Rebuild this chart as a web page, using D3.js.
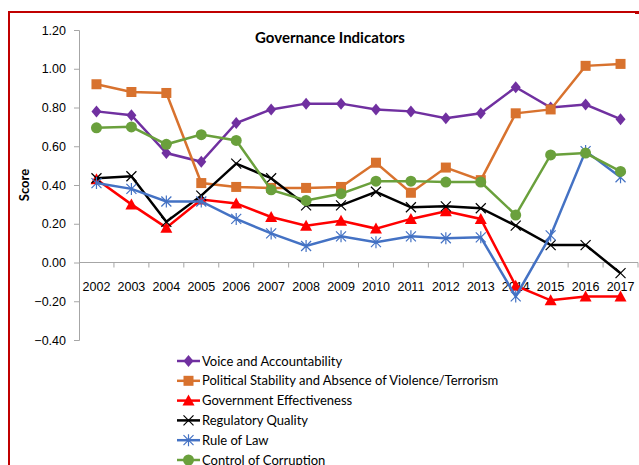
<!DOCTYPE html>
<html>
<head>
<meta charset="utf-8">
<script src="https://cdn.jsdelivr.net/npm/d3@7"></script>
<style>
  body { margin: 0; background: #fff; }
  svg { display: block; font-family: Lato, "Open Sans", sans-serif; }
  .axis path, .axis line { stroke: #a6a6a6; }
  .axis text { fill: #000; }
</style>
</head>
<body>
<div id="chart"></div>
<script>
var years = ["2002","2003","2004","2005","2006","2007","2008","2009","2010","2011","2012","2013","2014","2015","2016","2017"];
var yTicks = [-0.4, -0.2, 0, 0.2, 0.4, 0.6, 0.8, 1.0, 1.2];

var voice      = [0.78, 0.76, 0.565, 0.52, 0.72, 0.79, 0.82, 0.82, 0.79, 0.78, 0.745, 0.77, 0.905, 0.80, 0.815, 0.74];
var stability  = [0.92, 0.88, 0.875, 0.41, 0.39, 0.385, 0.385, 0.39, 0.515, 0.36, 0.49, 0.425, 0.77, 0.79, 1.015, 1.025];
var govEff     = [0.43, 0.30, 0.18, 0.325, 0.305, 0.235, 0.19, 0.215, 0.175, 0.225, 0.265, 0.225, -0.12, -0.195, -0.175, -0.175];
var regQuality = [0.435, 0.445, 0.21, 0.345, 0.51, 0.435, 0.295, 0.295, 0.365, 0.285, 0.29, 0.28, 0.19, 0.09, 0.09, -0.055];
var ruleOfLaw  = [0.41, 0.38, 0.315, 0.315, 0.225, 0.15, 0.085, 0.135, 0.105, 0.135, 0.125, 0.13, -0.175, 0.14, 0.575, 0.44];
var corruption = [0.695, 0.70, 0.61, 0.66, 0.63, 0.375, 0.32, 0.355, 0.42, 0.42, 0.415, 0.415, 0.245, 0.555, 0.565, 0.47];

var series = [
  {name: "Voice and Accountability", values: voice, color: "#7030a0", marker: "diamond"},
  {name: "Political Stability and Absence of Violence/Terrorism", values: stability, color: "#d8722e", marker: "square"},
  {name: "Government Effectiveness", values: govEff, color: "#ff0000", marker: "triangle"},
  {name: "Regulatory Quality", values: regQuality, color: "#000000", marker: "x"},
  {name: "Rule of Law", values: ruleOfLaw, color: "#4472c4", marker: "star"},
  {name: "Control of Corruption", values: corruption, color: "#6aa03c", marker: "circle"}
];

var W = 639, H = 465;

var svg = d3.select("#chart").append("svg")
  .attr("width", W).attr("height", H);

// red frame
svg.append("path")
  .attr("d", "M9,465 V12 H639")
  .attr("fill", "none").attr("stroke", "#c00000").attr("stroke-width", 2);
svg.append("rect").attr("x", 635).attr("y", 11).attr("width", 4).attr("height", 3).attr("fill", "#c00000");

var x = d3.scaleBand().domain(years).range([79, 638]);
var y = d3.scaleLinear().domain([-0.4, 1.2]).range([340, 30]);

// y axis
var yAxis = svg.append("g").attr("class", "axis")
  .attr("transform", "translate(79,0)")
  .call(d3.axisLeft(y).tickValues(yTicks).tickFormat(d3.format(".2f")).tickSize(5).tickPadding(8));
yAxis.selectAll("text").style("font-size", "12.5px");

// x axis at zero
var xAxis = svg.append("g").attr("class", "axis")
  .attr("transform", "translate(0," + y(0) + ")")
  .call(d3.axisBottom(x).tickSize(0).tickPadding(20));
xAxis.select(".domain").attr("d", "M79,0H638");
xAxis.selectAll(".tick text").style("font-size", "12.5px");
svg.append("g").attr("class", "axis")
  .selectAll("line").data(years)
  .join("line")
  .attr("x1", function(d){ return x(d) + x.bandwidth(); })
  .attr("x2", function(d){ return x(d) + x.bandwidth(); })
  .attr("y1", y(0)).attr("y2", y(0) + 5);

// title
svg.append("text")
  .attr("x", 330).attr("y", 43)
  .attr("text-anchor", "middle")
  .style("font-size", "15px").style("font-weight", "bold")
  .text("Governance Indicators");

svg.append("text")
  .attr("transform", "translate(29," + y(0.4) + ") rotate(-90)")
  .attr("text-anchor", "middle")
  .style("font-size", "13px").style("font-weight", "bold")
  .text("Score");

function drawMarker(g, type, color) {
  if (type === "diamond") {
    g.append("path").attr("d", "M0,-6L5,0L0,6L-5,0Z").attr("fill", color);
  } else if (type === "square") {
    g.append("rect").attr("x", -5).attr("y", -5).attr("width", 10).attr("height", 10).attr("fill", color);
  } else if (type === "triangle") {
    g.append("path").attr("d", "M0,-6L6,5L-6,5Z").attr("fill", color);
  } else if (type === "x") {
    g.append("path").attr("d", "M-5,-5L5,5M-5,5L5,-5").attr("stroke", color).attr("stroke-width", 1.2);
  } else if (type === "star") {
    g.append("path").attr("d", "M-5,-5L5,5M-5,5L5,-5M0,-6V6").attr("stroke", color).attr("stroke-width", 1.2);
  } else if (type === "circle") {
    g.append("circle").attr("r", 5.5).attr("fill", color);
  }
}

var line = d3.line()
  .x(function(d, i){ return x(years[i]) + x.bandwidth() / 2; })
  .y(function(d){ return y(d); });

series.forEach(function(s){
  var g = svg.append("g");
  g.append("path").datum(s.values)
    .attr("d", line)
    .attr("fill", "none").attr("stroke", s.color).attr("stroke-width", 2.5);
  s.values.forEach(function(v, i){
    var m = g.append("g").attr("transform", "translate(" + (x(years[i]) + x.bandwidth() / 2) + "," + y(v) + ")");
    drawMarker(m, s.marker, s.color);
  });
});

// legend
var legend = svg.append("g").attr("transform", "translate(177,361)");
series.forEach(function(s, i){
  var row = legend.append("g").attr("transform", "translate(0," + (i * 19.8) + ")");
  row.append("line").attr("x1", 0).attr("x2", 23).attr("stroke", s.color).attr("stroke-width", 2.5);
  drawMarker(row.append("g").attr("transform", "translate(11.5,0)"), s.marker, s.color);
  row.append("text").attr("x", 25).attr("dy", "0.35em")
    .style("font-size", "13px").text(s.name);
});
</script>
</body>
</html>
